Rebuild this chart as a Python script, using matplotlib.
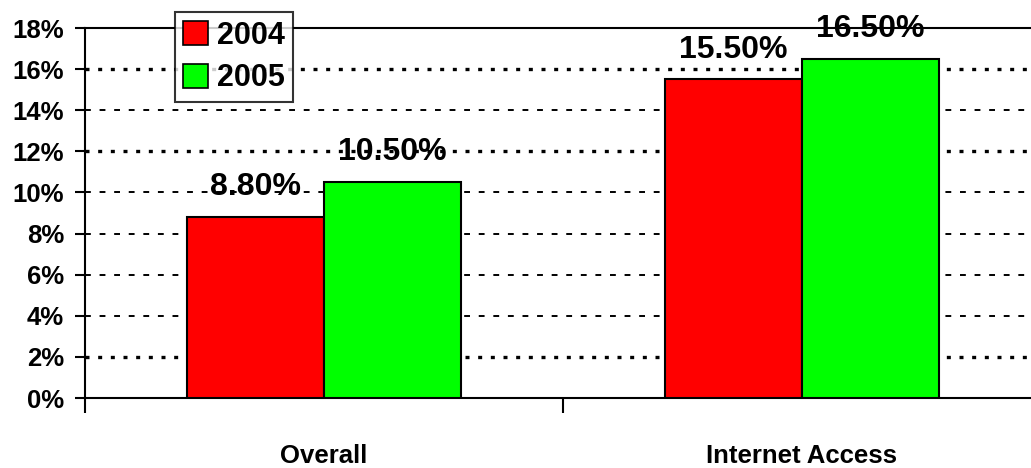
import numpy as np
import matplotlib
matplotlib.use("Agg")
import matplotlib.pyplot as plt
from matplotlib.patches import Patch

plt.rcParams["font.family"] = ["Liberation Sans", "DejaVu Sans"]
plt.rcParams["font.weight"] = "bold"

categories = ["Overall", "Internet Access"]
years = ["2004", "2005"]
rate_2004 = [8.8, 15.5]
rate_2005 = [10.5, 16.5]
colors = ["#ff0000", "#00ff00"]
yticks = [0, 2, 4, 6, 8, 10, 12, 14, 16, 18]

fig = plt.figure(figsize=(10.31, 4.68), dpi=100)
ax = fig.add_axes([85 / 1031, 70 / 468, 956 / 1031, 370 / 468])

x = np.arange(len(categories))
w = 0.287
for i, (vals, c) in enumerate(zip([rate_2004, rate_2005], colors)):
    pos = x + (i - 0.5) * w
    ax.bar(pos, vals, width=w, color=c, edgecolor="black", linewidth=1.5, zorder=3)
    for px, v in zip(pos, vals):
        ax.text(px, v + 0.72, f"{v:.2f}%", ha="center", va="bottom",
                fontsize=23, fontweight="bold", zorder=5)

# dotted gridlines; some render heavier than others
heavy = {2, 12, 16}
for t in yticks[1:-1]:
    if t in heavy:
        ax.axhline(t, color="black", lw=2.4, ls=(0, (1.2, 2.6)), zorder=1)
    else:
        ax.axhline(t, color="black", lw=1.4, ls=(0, (3, 4.5)), zorder=1)

ax.set_xlim(-0.5, 1.5)
ax.set_ylim(0, 18)
ax.set_yticks(yticks)
ax.set_yticklabels([f"{t}%" for t in yticks], fontsize=18.5, fontweight="bold")
ax.set_xticks([-0.5, 0.5, 1.5])
ax.set_xticklabels([])
ax.tick_params(axis="y", direction="out", length=7, width=1.5, pad=8)
ax.tick_params(axis="x", direction="out", length=11, width=1.5)
for s in ["left", "bottom", "top"]:
    ax.spines[s].set_linewidth(1.5)
ax.spines["right"].set_visible(False)

for xi, name in zip(x, categories):
    ax.text(xi, -0.158, name, transform=ax.get_xaxis_transform(),
            ha="center", va="center", fontsize=18.5, fontweight="bold")

handles = [Patch(facecolor=c, edgecolor="black", linewidth=1.2) for c in colors]
leg = ax.legend(handles, years, loc="upper left", bbox_to_anchor=(0.094, 1.043),
                prop={"weight": "bold", "size": 22},
                frameon=True, fancybox=False, handlelength=0.8, handleheight=0.8,
                handletextpad=0.3, borderpad=0.28, labelspacing=0.42,
                borderaxespad=0)
leg.get_frame().set_edgecolor("black")
leg.get_frame().set_linewidth(1.5)
leg.set_zorder(6)

fig.savefig("out.png", dpi=100)
